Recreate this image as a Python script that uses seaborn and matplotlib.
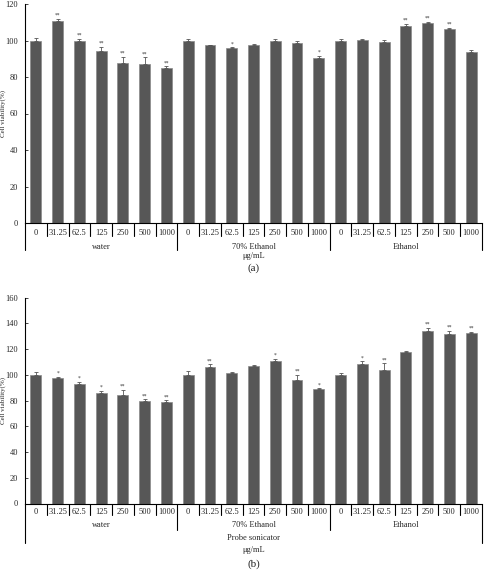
#!/usr/bin/env python3

# Cell viability of the extracts, two panels

import matplotlib
matplotlib.use("Agg")
import matplotlib.pyplot as plt
import matplotlib.transforms as mtransforms
import seaborn as sns
import pandas as pd

groups = ["water", "70% Ethanol", "Ethanol"]
concs = ["0", "31.25", "62.5", "125", "250", "500", "1000"]

# panel (a)
viab_a = [100.0, 110.8, 100.0, 94.2, 87.5, 87.3, 84.9,
          100.0, 97.5, 95.9, 97.4, 99.9, 98.4, 90.6,
          99.9, 100.5, 99.2, 108.1, 109.4, 106.1, 93.9]
err_a = [1.5, 1.0, 1.0, 2.5, 3.5, 3.5, 1.0,
         1.0, 0.3, 0.5, 0.5, 1.0, 1.5, 1.0,
         1.0, 0.5, 1.0, 1.0, 0.8, 1.0, 1.0]
sig_a = ["", "**", "**", "**", "**", "**", "**",
         "", "", "*", "", "", "", "*",
         "", "", "", "**", "**", "**", ""]

# panel (b)
viab_b = [100.0, 97.5, 93.0, 85.6, 84.5, 79.4, 78.8,
          100.0, 105.8, 101.6, 107.0, 110.4, 96.2, 88.7,
          100.0, 108.6, 103.9, 117.7, 134.2, 131.9, 132.7]
err_b = [2.0, 1.0, 1.5, 2.0, 4.0, 1.5, 1.5,
         3.0, 2.5, 1.0, 0.5, 2.0, 4.0, 1.0,
         1.5, 2.0, 5.0, 0.5, 2.5, 2.5, 1.0]
sig_b = ["", "*", "*", "*", "**", "**", "**",
         "", "**", "", "", "*", "**", "*",
         "", "*", "**", "", "**", "**", "**"]

W, H = 486, 570
sns.set_style("ticks")
plt.rcParams["font.family"] = ["Liberation Serif", "DejaVu Serif"]


def fx(px):
    return px / W


def fy(py):
    return 1 - py / H


def panel(fig, rect, viab, err, sig, ymax, y0, ybot, rows, tag):
    ax = fig.add_axes(rect)
    keys = [g + "|" + c for g in groups for c in concs]
    df = pd.DataFrame({"key": keys, "viab": viab})
    sns.barplot(data=df, x="key", y="viab", order=keys, color="#575757",
                edgecolor="#8a8a8a", linewidth=0.5, width=0.5, saturation=1,
                errorbar=None, ax=ax)
    ax.errorbar(range(len(keys)), viab, yerr=[[0] * len(err), err], fmt="none",
                ecolor="#555555", elinewidth=0.6, capsize=1.5, capthick=0.6)
    for i, s in enumerate(sig):
        if s:
            ax.text(i, viab[i] + err[i] + ymax * 0.004, s, ha="center", va="bottom",
                    fontsize=4, color="#333333")
    ax.set_xlim(-0.5, len(keys) - 0.5)
    ax.set_ylim(0, ymax)
    ax.set_yticks(range(0, ymax + 1, 20))
    ax.tick_params(axis="y", labelsize=6, length=2, width=0.6, pad=5,
                   direction="in")
    ax.set_xticks([])
    ax.set_xlabel("")
    ax.set_ylabel("Cell viability(%)", fontsize=5)
    # label centre sits ~6 px from the left edge of the figure
    ax.yaxis.set_label_coords(-(rect[0] * W - 6) / (rect[2] * W), 0.5)
    for sp in ["top", "right"]:
        ax.spines[sp].set_visible(False)
    for sp in ["left", "bottom"]:
        ax.spines[sp].set_linewidth(0.8)
        ax.spines[sp].set_color("black")

    tr = mtransforms.blended_transform_factory(ax.transData, fig.transFigure)
    # concentration labels and separators
    for i, k in enumerate(keys):
        ax.text(i, fy(rows[0]), k.split("|")[1], transform=tr, ha="center",
                va="center", fontsize=6)
    for b in range(len(keys) + 1):
        x = b - 0.5
        if b % len(concs) == 0:
            end = ybot[0] if b in (0, len(keys)) else ybot[1]
        else:
            end = ybot[2]
        ax.plot([x, x], [fy(y0), fy(end)], transform=tr, color="black",
                lw=0.8, clip_on=False)
    for gi, g in enumerate(groups):
        xc = gi * len(concs) + (len(concs) - 1) / 2
        ax.text(xc, fy(rows[1]), g, transform=tr, ha="center", va="center",
                fontsize=6)
    xmid = (len(keys) - 1) / 2
    for txt, py in rows[2]:
        ax.text(xmid, fy(py), txt, transform=tr, ha="center", va="center",
                fontsize=6)
    ax.text(xmid, fy(rows[3]), tag, transform=tr, ha="center", va="center",
            fontsize=8)
    return ax


fig = plt.figure(figsize=(W / 100, H / 100), dpi=100)

panel(fig, [fx(25), fy(223), fx(482) - fx(25), fy(4) - fy(223)],
      viab_a, err_a, sig_a, 120, 223, (250, 250, 236),
      (233, 247, [("μg/mL", 256)], 268), "(a)")

panel(fig, [fx(25), fy(503.5), fx(482) - fx(25), fy(297.7) - fy(503.5)],
      viab_b, err_b, sig_b, 160, 503.5, (543, 530, 515),
      (512, 525, [("Probe sonicator", 538), ("μg/mL", 550)], 564), "(b)")

fig.savefig("out.png", dpi=100)
